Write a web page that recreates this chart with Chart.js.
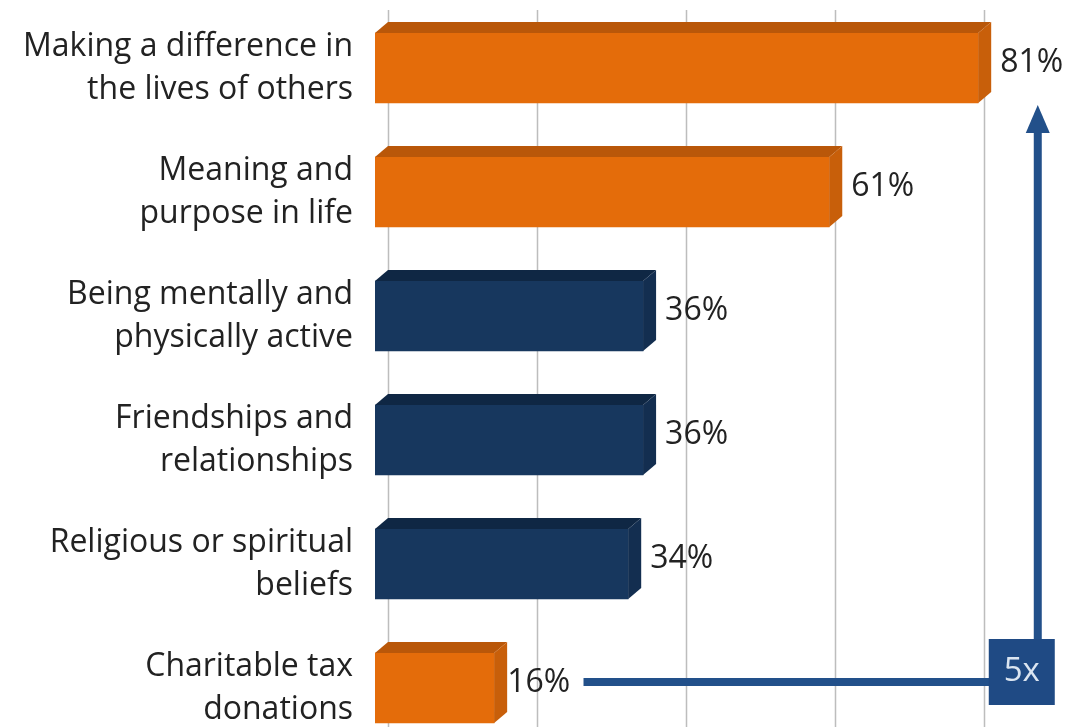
<!DOCTYPE html>
<html lang="en">
<head>
  <meta charset="UTF-8">
  <title>Sources of fulfillment</title>
  <script src="https://cdn.jsdelivr.net/npm/chart.js"></script>
  <style>
    html, body {
      margin: 0;
      padding: 0;
      background: #ffffff;
    }
    .wrap {
      width: 1075px;
      height: 727px;
      overflow: hidden;
      position: relative;
    }
    .wrap canvas {
      position: absolute;
      left: 0;
      top: 0;
    }
  </style>
</head>
<body>
  <div class="wrap">
    <canvas id="chart" width="1075" height="760"></canvas>
  </div>

  <script>
  const categories = [
    ['Making a difference in', 'the lives of others'],
    ['Meaning and', 'purpose in life'],
    ['Being mentally and', 'physically active'],
    ['Friendships and', 'relationships'],
    ['Religious or spiritual', 'beliefs'],
    ['Charitable tax', 'donations']
  ];
  const percentages = [81, 61, 36, 36, 34, 16];
  const gridTicks = [0, 20, 40, 60, 80];
  const multiplierLabel = '5x';

  const orange = { front: '#e46c0a', top: '#b95709', side: '#c85f0a' };
  const navy = { front: '#17375e', top: '#0f2744', side: '#132e50' };
  const barColors = [orange, orange, navy, navy, navy, orange];
  const depthX = 13, depthY = 11;
  const fontFamily = '"Open Sans", Lato, sans-serif';
  const textColor = '#222222';

  // back wall gridlines, pushed back by the 3D depth
  const backGrid = {
    id: 'backGrid',
    beforeDatasetsDraw(chart) {
      const { ctx, chartArea, scales } = chart;
      ctx.save();
      ctx.strokeStyle = '#bdbdbd';
      ctx.lineWidth = 1.5;
      gridTicks.forEach(v => {
        const x = Math.round(scales.x.getPixelForValue(v) + depthX) + 0.5;
        ctx.beginPath();
        ctx.moveTo(x, chartArea.top + 4);
        ctx.lineTo(x, chartArea.bottom);
        ctx.stroke();
      });
      ctx.restore();
    }
  };

  // top and side faces + value labels
  const bars3d = {
    id: 'bars3d',
    afterDatasetsDraw(chart) {
      const { ctx } = chart;
      const meta = chart.getDatasetMeta(0);
      ctx.save();
      meta.data.forEach((bar, i) => {
        const c = barColors[i];
        const x0 = bar.base, x1 = bar.x;
        const yT = bar.y - bar.height / 2, yB = bar.y + bar.height / 2;
        ctx.fillStyle = c.top;
        ctx.beginPath();
        ctx.moveTo(x0, yT);
        ctx.lineTo(x0 + depthX, yT - depthY);
        ctx.lineTo(x1 + depthX, yT - depthY);
        ctx.lineTo(x1, yT);
        ctx.closePath();
        ctx.fill();
        ctx.fillStyle = c.side;
        ctx.beginPath();
        ctx.moveTo(x1, yT);
        ctx.lineTo(x1 + depthX, yT - depthY);
        ctx.lineTo(x1 + depthX, yB - depthY);
        ctx.lineTo(x1, yB);
        ctx.closePath();
        ctx.fill();

        ctx.fillStyle = textColor;
        ctx.font = '32px ' + fontFamily;
        ctx.textAlign = 'left';
        ctx.textBaseline = 'middle';
        const gap = i === meta.data.length - 1 ? 0 : 9;
        ctx.fillText(percentages[i] + '%', x1 + depthX + gap, bar.y - 5);
      });
      ctx.restore();
    }
  };

  // "5x" arrow from the smallest to the largest bar
  const multiplier = {
    id: 'multiplier',
    afterDraw(chart) {
      const { ctx, scales } = chart;
      const meta = chart.getDatasetMeta(0);
      const first = meta.data[0];
      const last = meta.data[meta.data.length - 1];
      const blue = '#22508a';
      const boxCx = scales.x.getPixelForValue(89);
      const lineY = last.y - 6;
      const boxW = 66, boxH = 66;
      const tipY = first.y + first.height / 2 + 2;
      const startX = scales.x.getPixelForValue(28);

      ctx.save();
      ctx.strokeStyle = blue;
      ctx.lineWidth = 8;
      ctx.beginPath();
      ctx.moveTo(startX, lineY);
      ctx.lineTo(boxCx, lineY);
      ctx.lineTo(boxCx, tipY + 26);
      ctx.stroke();

      ctx.fillStyle = blue;
      ctx.beginPath();
      ctx.moveTo(boxCx, tipY);
      ctx.lineTo(boxCx - 12, tipY + 28);
      ctx.lineTo(boxCx + 12, tipY + 28);
      ctx.closePath();
      ctx.fill();

      ctx.fillStyle = '#1f4a84';
      ctx.fillRect(boxCx - boxW / 2 - 16, lineY - 43, boxW, boxH);
      ctx.fillStyle = '#dbe5f1';
      ctx.font = '33px ' + fontFamily;
      ctx.textAlign = 'center';
      ctx.textBaseline = 'middle';
      ctx.fillText(multiplierLabel, boxCx - 16, lineY - 10);
      ctx.restore();
    }
  };

  new Chart(document.getElementById('chart'), {
    type: 'bar',
    data: {
      labels: categories,
      datasets: [{
        data: percentages,
        backgroundColor: barColors.map(c => c.front),
        borderWidth: 0,
        barThickness: 70
      }]
    },
    options: {
      indexAxis: 'y',
      responsive: false,
      animation: false,
      layout: { padding: { top: 6, bottom: 10, left: 0, right: 0 } },
      plugins: { legend: { display: false }, tooltip: { enabled: false } },
      scales: {
        x: { display: false, min: 0, max: 94 },
        y: {
          grid: { display: false, drawTicks: false },
          border: { display: false },
          ticks: {
            padding: 22,
            color: textColor,
            font: { family: fontFamily, size: 32, lineHeight: 1.34 }
          },
          afterFit(scale) {
            scale.width = 375;
            scale.paddingTop = 0;
            scale.paddingBottom = 0;
          }
        }
      }
    },
    plugins: [backGrid, bars3d, multiplier]
  });
  </script>
</body>
</html>
